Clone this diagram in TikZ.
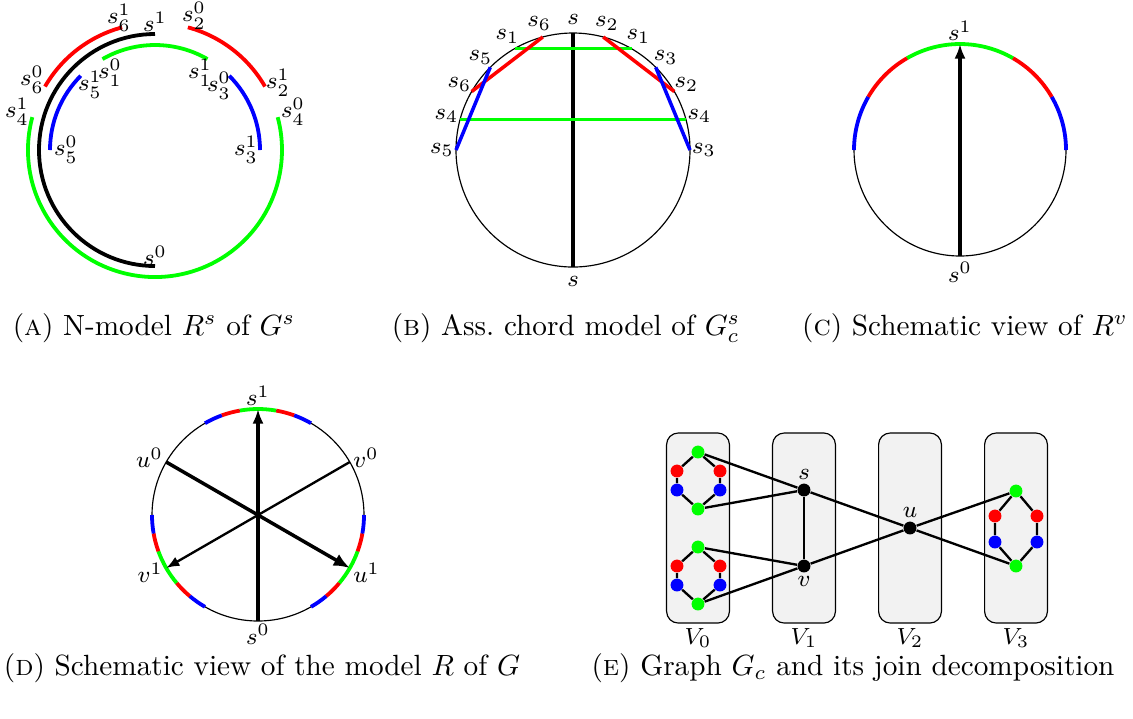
\documentclass[tikz,border=0pt]{standalone}
\usepackage{tikz}
\usetikzlibrary{arrows.meta,positioning}

\begin{document}
\begin{tikzpicture}[
  x=0.342pt,y=0.342pt,
  every node/.style={inner sep=1pt,font=\footnotesize},
  band/.style={line width=1.3pt},
  chord/.style={line width=1.2pt},
  rim/.style={line width=0.4pt},
  ray/.style={-{Latex[length=5pt,width=3.8pt]},line width=1.2pt},
  vtx/.style={circle,fill=#1,minimum size=4.4pt,inner sep=0pt},
  part/.style={draw,rounded corners=4pt,fill=gray!10,minimum width=21.5pt,minimum height=65pt},
  subcap/.style={font=\normalsize}
]
\useasboundingbox (0,0) rectangle (1133,-718);

% (a) N-model
\begin{scope}[shift={(155,-150)}]
  \draw[band,black] (90:116) arc (90:270:116);
  \draw[band,green] (165:127) arc (165:375:127);
  \draw[band,red] (105:127) arc (105:150:127);
  \draw[band,red] (30:127) arc (30:75:127);
  \draw[band,green] (60:105) arc (60:120:105);
  \draw[band,blue] (135:105) arc (135:180:105);
  \draw[band,blue] (0:105) arc (0:45:105);
\end{scope}
\node (a1) at (155,-22) {$s^1$};
\node (a0) at (155,-256) {$s^0$};
\node (a61) at (119,-18) {$s_6^1$};
\node (a20) at (194,-16) {$s_2^0$};
\node (a60) at (32,-80) {$s_6^0$};
\node (a21) at (278,-83) {$s_2^1$};
\node (a41) at (17,-112) {$s_4^1$};
\node (a40) at (293,-112) {$s_4^0$};
\node (a51) at (90,-85) {$s_5^1$};
\node (a10) at (110,-73) {$s_1^0$};
\node (a11) at (200,-73) {$s_1^1$};
\node (a30) at (219,-86) {$s_3^0$};
\node (a50) at (66,-150) {$s_5^0$};
\node (a31) at (246,-150) {$s_3^1$};
\node[subcap] (capa) at (154,-328) {(\textsc{a}) N-model $R^s$ of $G^s$};

% (b) chord model
\begin{scope}[shift={(573,-150)}]
  \draw[rim] (0,0) circle (117);
  \draw[chord,black,line width=1.6pt] (90:117) -- (270:117);
  \draw[chord,green] (120:117) -- (60:117);
  \draw[chord,green] (165:117) -- (15:117);
  \draw[chord,red] (105:117) -- (150:117);
  \draw[chord,red] (75:117) -- (30:117);
  \draw[chord,blue] (135:117) -- (180:117);
  \draw[chord,blue] (45:117) -- (0:117);
  \foreach \a/\t in {90/s,270/s,105/s_6,120/s_1,135/s_5,150/s_6,165/s_4,180/s_5,
                     75/s_2,60/s_1,45/s_3,30/s_2,15/s_4,0/s_3}
    \node (b\a) at (\a:131) {$\t$};
\end{scope}
\node[subcap] (capb) at (566,-328) {(\textsc{b}) Ass.\ chord model of $G_c^s$};

% (c) schematic view of R^v
\begin{scope}[shift={(960,-150)}]
  \draw[rim] (0,0) circle (106);
  \draw[band,green] (60:106) arc (60:120:106);
  \draw[band,red] (120:106) arc (120:150:106);
  \draw[band,red] (30:106) arc (30:60:106);
  \draw[band,blue] (150:106) arc (150:180:106);
  \draw[band,blue] (0:106) arc (0:30:106);
  \coordinate (c0) at (270:106);
  \coordinate (c1) at (90:106);
  \draw[ray] (c0) -- (c1);
  \node[above=0pt of c1] (lc1) {$s^1$};
  \node[below=1pt of c0] (lc0) {$s^0$};
\end{scope}
\node[subcap] (capc) at (965,-328) {(\textsc{c}) Schematic view of $R^v$};

% (d) schematic view of R
\begin{scope}[shift={(258,-515)}]
  \draw[rim] (0,0) circle (106);
  \foreach \m in {90,210,330}{
    \draw[band,green] (\m-10:106) arc (\m-10:\m+10:106);
    \draw[band,red] (\m+10:106) arc (\m+10:\m+20:106);
    \draw[band,red] (\m-20:106) arc (\m-20:\m-10:106);
    \draw[band,blue] (\m+20:106) arc (\m+20:\m+30:106);
    \draw[band,blue] (\m-30:106) arc (\m-30:\m-20:106);
  }
  \coordinate (ds0) at (270:106);
  \coordinate (ds1) at (90:106);
  \coordinate (du0) at (150:106);
  \coordinate (du1) at (330:106);
  \coordinate (dv0) at (30:106);
  \coordinate (dv1) at (210:106);
  \draw[ray] (ds0) -- (ds1);
  \draw[-{Latex[length=5.5pt,width=4.5pt]},line width=1.2pt] (du0) -- (du1);
  \draw[-{Latex[length=4.5pt,width=3.5pt]},line width=0.8pt] (dv0) -- (dv1);
  \node[above=0pt of ds1] (lds1) {$s^1$};
  \node[below=0pt of ds0] (lds0) {$s^0$};
  \node[above left=-3pt and 0pt of du0] (ldu0) {$u^0$};
  \node[above right=-3pt and 0pt of dv0] (ldv0) {$v^0$};
  \node[below left=-3pt and 0pt of dv1] (ldv1) {$v^1$};
  \node[below right=-3pt and 0pt of du1] (ldu1) {$u^1$};
\end{scope}
\node[subcap] (capd) at (262,-668) {(\textsc{d}) Schematic view of the model $R$ of $G$};

% (e) graph and join decomposition
\foreach \i/\x in {0/698,1/804,2/910,3/1016}{
  \node[part] (P\i) at (\x,-528) {};
  \node (L\i) at (\x,-638) {$V_\i$};
}
\foreach \k/\y in {p/452,q/547}{
  \node[vtx=green] (\k g1) at (698,-\y) {};
  \node[vtx=red] (\k rl) at (677,-\y-19) {};
  \node[vtx=red] (\k rr) at (720,-\y-19) {};
  \node[vtx=blue] (\k bl) at (677,-\y-38) {};
  \node[vtx=blue] (\k br) at (720,-\y-38) {};
  \node[vtx=green] (\k g2) at (698,-\y-57) {};
  \draw[thick] (\k g1) -- (\k rl) -- (\k bl) -- (\k g2) -- (\k br) -- (\k rr) -- (\k g1);
}
\node[vtx=green] (rg1) at (1016,-491) {};
\node[vtx=red] (rrl) at (995,-516) {};
\node[vtx=red] (rrr) at (1037,-516) {};
\node[vtx=blue] (rbl) at (995,-542) {};
\node[vtx=blue] (rbr) at (1037,-542) {};
\node[vtx=green] (rg2) at (1016,-566) {};
\draw[thick] (rg1) -- (rrl) -- (rbl) -- (rg2) -- (rbr) -- (rrr) -- (rg1);
\node[vtx=black,label={[inner sep=1pt,font=\footnotesize]above:$s$}] (s) at (804,-490) {};
\node[vtx=black,label={[inner sep=1pt,font=\footnotesize]below:$v$}] (v) at (804,-566) {};
\node[vtx=black,label={[inner sep=1pt,font=\footnotesize]above:$u$}] (u) at (910,-528) {};
\draw[thick] (pg1) -- (s) -- (pg2);
\draw[thick] (qg1) -- (v) -- (qg2);
\draw[thick] (s) -- (v);
\draw[thick] (s) -- (u) -- (v);
\draw[thick] (rg1) -- (u) -- (rg2);
\node[subcap] (cape) at (853,-668) {(\textsc{e}) Graph $G_c$ and its join decomposition};
\end{tikzpicture}
\end{document}
